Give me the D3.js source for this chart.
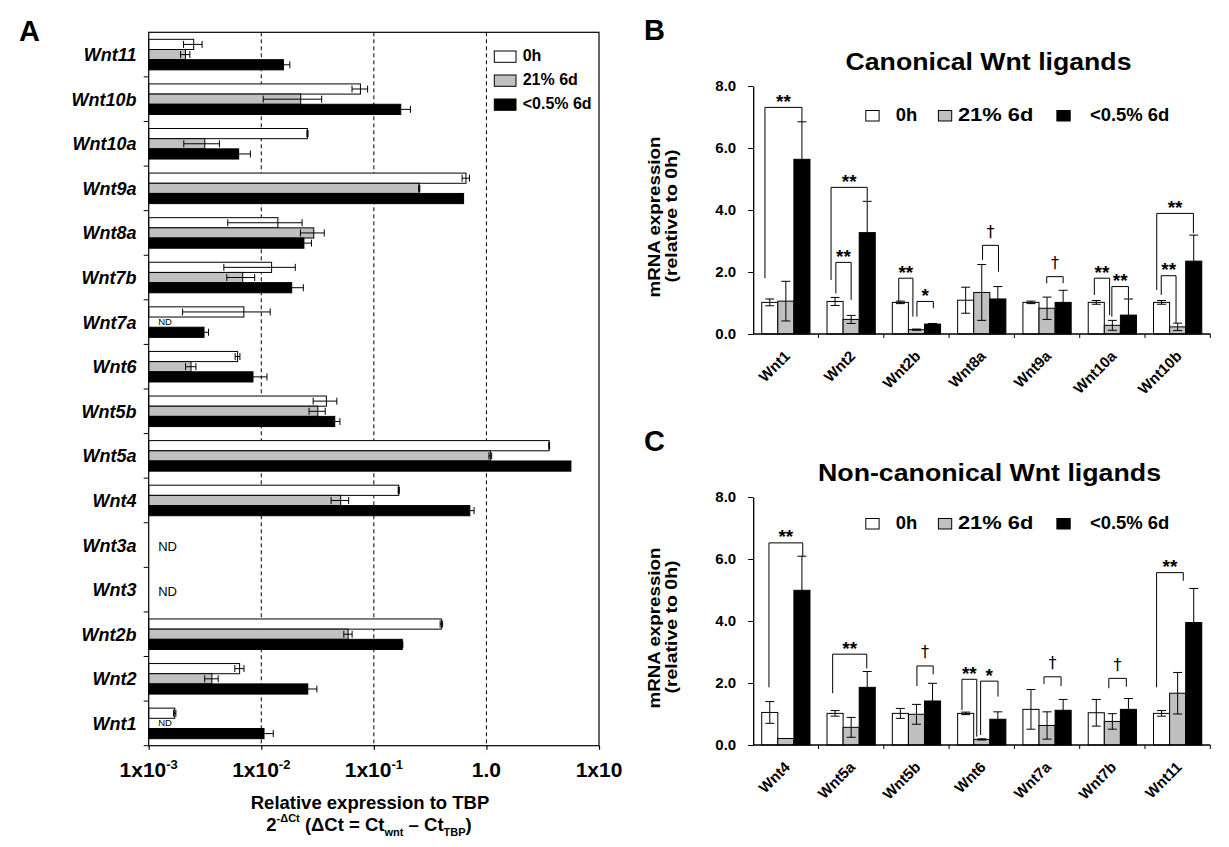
<!DOCTYPE html>
<html><head><meta charset="utf-8">
<script src="https://cdn.jsdelivr.net/npm/d3@7"></script>
<style>
body{margin:0;background:#fff;}
svg{display:block;font-family:"Liberation Sans",Arial,sans-serif;}
text{fill:#000;}
</style></head><body>
<svg id="c" width="1229" height="847"></svg>
<script>
// ---------------- DATA ----------------
const seriesNames = ["0h", "21% 6d", "<0.5% 6d"];

// Panel A (log scale, relative to TBP); null = ND
const catsA = ["Wnt11","Wnt10b","Wnt10a","Wnt9a","Wnt8a","Wnt7b","Wnt7a","Wnt6","Wnt5b","Wnt5a","Wnt4","Wnt3a","Wnt3","Wnt2b","Wnt2","Wnt1"];
const a0h    = [0.00251, 0.0760, 0.02573, 0.658, 0.01404, 0.01235, 0.0070, 0.00616, 0.0379, 3.61, 0.1664, null, null, 0.398, 0.00642, 0.001704];
const a0hErr = [0.00047, 0.012, 0.0003, 0.05, 0.009, 0.0077, 0.005, 0.0003, 0.009, 0.03, 0.002, null, null, 0.01, 0.0006, 0.00004];
const a21    = [0.00212, 0.02241, 0.00315, 0.253, 0.02927, 0.00684, null, 0.002376, 0.03178, 1.083, 0.0507, null, null, 0.0591, 0.00364, null];
const a21Err = [0.0002, 0.012, 0.0011, 0.003, 0.007, 0.0019, null, 0.00025, 0.0052, 0.03, 0.009, null, null, 0.005, 0.0005, null];
const a05    = [0.01573, 0.1734, 0.0063, 0.627, 0.02392, 0.01864, 0.0031, 0.00844, 0.04496, 5.63, 0.712, null, null, 0.1789, 0.0259, 0.01058];
const a05Err = [0.0022, 0.038, 0.0017, 0, 0.004, 0.005, 0.0003, 0.0028, 0.005, 0, 0.065, null, null, 0.002, 0.0053, 0.0022];
const decadesA  = [1e-3, 1e-2, 1e-1, 1, 10];
const tickBaseA = ["1x10", "1x10", "1x10", "1.0", "1x10"];
const tickExpA  = ["-3", "-2", "-1", "", ""];

// Panel B (canonical)
const catsB  = ["Wnt1","Wnt2","Wnt2b","Wnt8a","Wnt9a","Wnt10a","Wnt10b"];
const b0h    = [1.02, 1.05, 1.02, 1.09, 1.02, 1.02, 1.02];
const b0hErr = [0.11, 0.13, 0.04, 0.42, 0.04, 0.06, 0.06];
const b21    = [1.06, 0.47, 0.14, 1.34, 0.83, 0.28, 0.23];
const b21Err = [0.64, 0.13, 0.02, 0.90, 0.36, 0.16, 0.12];
const b05    = [5.635, 3.27, 0.32, 1.13, 1.02, 0.61, 2.35];
const b05Err = [1.21, 1.01, 0.02, 0.40, 0.39, 0.52, 0.84];
const bracketsB = [
  {cat:"Wnt1",  from:-0.3, to:2.0,  top:7.31, l:1.80, r:6.85, label:"**"},
  {cat:"Wnt2",  from:-0.25,to:2.0,  top:4.73, l:1.74, r:4.30, label:"**"},
  {cat:"Wnt2",  from:0.05, to:1.0,  top:2.31, l:1.31, r:1.10, label:"**"},
  {cat:"Wnt2b", from:-0.1, to:0.78, top:1.80, l:1.04, r:0.56, label:"**"},
  {cat:"Wnt2b", from:1.03, to:2.05, top:1.05, l:0.56, r:0.83, label:"*"},
  {cat:"Wnt8a", from:1.05, to:2.04, top:2.86, l:2.39, r:2.01, label:"†"},
  {cat:"Wnt9a", from:0.98, to:2.0,  top:1.85, l:1.64, r:1.64, label:"†"},
  {cat:"Wnt10a",from:-0.12,to:0.83, top:1.80, l:1.26, r:0.61, label:"**"},
  {cat:"Wnt10a",from:0.97, to:2.0,  top:1.53, l:0.56, r:1.15, label:"**"},
  {cat:"Wnt10b",from:-0.3, to:1.98, top:3.89, l:1.42, r:3.25, label:"**"},
  {cat:"Wnt10b",from:-0.02,to:0.9,  top:1.88, l:1.26, r:0.35, label:"**"}
];

// Panel C (non-canonical)
const catsC  = ["Wnt4","Wnt5a","Wnt5b","Wnt6","Wnt7a","Wnt7b","Wnt11"];
const c0h    = [1.05, 1.02, 1.02, 1.02, 1.15, 1.04, 1.02];
const c0hErr = [0.35, 0.09, 0.16, 0.04, 0.64, 0.43, 0.09];
const c21    = [0.21, 0.57, 0.99, 0.18, 0.63, 0.76, 1.67];
const c21Err = [0, 0.32, 0.32, 0.02, 0.44, 0.25, 0.67];
const c05    = [4.99, 1.86, 1.42, 0.83, 1.12, 1.15, 3.95];
const c05Err = [1.10, 0.51, 0.57, 0.24, 0.35, 0.35, 1.10];
const bracketsC = [
  {cat:"Wnt4",  from:-0.05,to:2.05, top:6.52, l:1.86, r:6.09, label:"**"},
  {cat:"Wnt5a", from:-0.15,to:1.97, top:2.93, l:1.67, r:2.47, label:"**"},
  {cat:"Wnt5b", from:1.03, to:2.04, top:2.55, l:1.90, r:2.28, label:"†"},
  {cat:"Wnt6",  from:-0.23,to:0.69, top:2.12, l:1.13, r:0.27, label:"**"},
  {cat:"Wnt6",  from:0.93, to:2.01, top:2.06, l:0.32, r:1.56, label:"*"},
  {cat:"Wnt7a", from:0.81, to:1.87, top:2.20, l:1.97, r:1.90, label:"†"},
  {cat:"Wnt7b", from:0.78, to:1.87, top:2.15, l:1.83, r:1.88, label:"†"},
  {cat:"Wnt11", from:-0.31,to:1.35, top:5.56, l:1.86, r:5.30, label:"**"}
];
const yTicksBC = [0, 2, 4, 6, 8];

// ---------------- STYLE ----------------
const fills = ["#ffffff", "#c0c0c0", "#000000"];
const svg = d3.select("#c");

// ---------------- PANEL A ----------------
(function(){
  const L = 148.7, R = 599, T = 32.3, B = 745.7;
  const x = d3.scaleLog().domain([1e-3, 10]).range([L, R]);
  const y = d3.scaleBand().domain(catsA).range([T, B]);
  const yi = d3.scaleBand().domain([0,1,2]).range([0, y.bandwidth()]).paddingOuter(0.69);
  const vals = [a0h, a21, a05], errs = [a0hErr, a21Err, a05Err];
  const g = svg.append("g");

  g.append("text").attr("x", 19).attr("y", 40.5).attr("font-size", 29).attr("font-weight", "bold").text("A");

  // dashed grid
  g.selectAll("line.grid").data(decadesA.slice(1, 4)).join("line")
    .attr("x1", d => x(d)).attr("x2", d => x(d)).attr("y1", T).attr("y2", B)
    .attr("stroke", "#000").attr("stroke-width", 1).attr("stroke-dasharray", "4,3");

  // bars
  catsA.forEach((c, ci) => {
    const allNull = vals.every(v => v[ci] == null);
    if (allNull) {
      g.append("text").attr("x", L + 9.5).attr("y", y(c) + y.bandwidth()/2 + 6)
        .attr("font-size", 13).text("ND");
      return;
    }
    vals.forEach((arr, si) => {
      const v = arr[ci];
      const yy = y(c) + yi(si), h = yi.bandwidth();
      if (v == null) {
        g.append("text").attr("x", L + 9.5).attr("y", yy + h - 2.2)
          .attr("font-size", 9.5).text("ND");
        return;
      }
      g.append("rect").attr("x", L).attr("y", yy).attr("width", x(v) - L).attr("height", h)
        .attr("fill", fills[si]).attr("stroke", "#000").attr("stroke-width", 1);
      const e = errs[si][ci];
      if (e) {
        const lo = Math.max(v - e, 1e-3), hi = v + e, cy = yy + h/2;
        g.append("line").attr("x1", x(lo)).attr("x2", x(hi)).attr("y1", cy).attr("y2", cy).attr("stroke", "#000");
        [lo, hi].forEach(d => g.append("line").attr("x1", x(d)).attr("x2", x(d))
          .attr("y1", cy - 3.5).attr("y2", cy + 3.5).attr("stroke", "#000"));
      }
    });
  });

  // frame
  g.append("rect").attr("x", L).attr("y", T).attr("width", R - L).attr("height", B - T)
    .attr("fill", "none").attr("stroke", "#000").attr("stroke-width", 1.2);

  // left ticks at category boundaries
  const bounds = catsA.slice(1).map(c => y(c)).concat([B]);
  g.selectAll("line.lt").data(bounds).join("line")
    .attr("x1", L - 5).attr("x2", L).attr("y1", d => d).attr("y2", d => d).attr("stroke", "#000");

  // bottom axis
  const ax = g.append("g").attr("transform", `translate(0,${B})`)
    .call(d3.axisBottom(x).tickValues(decadesA).tickFormat("").tickSize(4).tickSizeOuter(0));
  ax.select(".domain").remove();
  ax.selectAll("line").attr("stroke-width", 1.2);

  // category labels
  g.selectAll("text.cat").data(catsA).join("text")
    .attr("x", 136.5).attr("y", d => y(d) + y.bandwidth()/2 + 6.5)
    .attr("text-anchor", "end").attr("font-size", 18).attr("font-weight", "bold").attr("font-style", "italic")
    .text(d => d);

  // tick labels
  decadesA.forEach((d, i) => {
    const t = g.append("text").attr("x", x(d)).attr("y", 777).attr("text-anchor", "middle")
      .attr("font-size", 21).attr("font-weight", "bold");
    t.append("tspan").text(tickBaseA[i]);
    if (tickExpA[i]) t.append("tspan").attr("font-size", 13).attr("dy", -8).text(tickExpA[i]);
  });

  // axis title
  g.append("text").attr("x", 370).attr("y", 808.5).attr("text-anchor", "middle")
    .attr("font-size", 18.5).attr("font-weight", "bold").text("Relative expression to TBP");
  const t2 = g.append("text").attr("x", 369).attr("y", 830.5).attr("text-anchor", "middle")
    .attr("font-size", 18.5).attr("font-weight", "bold");
  t2.append("tspan").text("2");
  t2.append("tspan").attr("font-size", 11).attr("dy", -9).text("-ΔCt");
  t2.append("tspan").attr("dy", 9).text(" (ΔCt = Ct");
  t2.append("tspan").attr("font-size", 11).attr("dy", 5).text("wnt");
  t2.append("tspan").attr("dy", -5).text(" – Ct");
  t2.append("tspan").attr("font-size", 11).attr("dy", 5).text("TBP");
  t2.append("tspan").attr("dy", -5).text(")");

  // legend
  seriesNames.forEach((s, i) => {
    const by = 51 + i * 24;
    g.append("rect").attr("x", 494.3).attr("y", by).attr("width", 21.7).attr("height", 11.3)
      .attr("fill", fills[i]).attr("stroke", "#000");
    g.append("text").attr("x", 522.7).attr("y", by + 10.3).attr("font-size", 16).attr("font-weight", "bold").text(s);
  });
})();

// ---------------- PANELS B & C ----------------
function drawPanel(o) {
  const g = svg.append("g");
  const x = d3.scaleBand().domain(o.cats).range([753.2, 1210.3]);
  const xi = d3.scaleBand().domain([0,1,2]).range([0, x.bandwidth()]).paddingOuter(0.53);
  const y = d3.scaleLinear().domain([0, 8]).range([o.y0, o.y0 - 248]);
  const vals = o.vals, errs = o.errs;
  const barCenter = (c, idx) => x(c) + xi(0) + xi.bandwidth()/2 + idx * xi.step();

  g.append("text").attr("x", 644).attr("y", o.y0 - 294).attr("font-size", 29).attr("font-weight", "bold").text(o.letter);
  g.append("text").attr("x", o.titleX).attr("y", o.y0 - 264.5).attr("text-anchor", "middle")
    .attr("font-size", 23).attr("font-weight", "bold")
    .attr("textLength", o.titleLen).attr("lengthAdjust", "spacingAndGlyphs").text(o.title);

  // y title
  const yc = o.y0 - 117;
  g.append("text").attr("transform", `translate(660,${yc}) rotate(-90)`).attr("text-anchor", "middle")
    .attr("font-size", 16.5).attr("font-weight", "bold")
    .attr("textLength", 161).attr("lengthAdjust", "spacingAndGlyphs").text("mRNA expression");
  g.append("text").attr("transform", `translate(676.5,${yc - 1}) rotate(-90)`).attr("text-anchor", "middle")
    .attr("font-size", 16.5).attr("font-weight", "bold")
    .attr("textLength", 133).attr("lengthAdjust", "spacingAndGlyphs").text("(relative to 0h)");

  // bars
  o.cats.forEach((c, ci) => {
    vals.forEach((arr, si) => {
      const v = arr[ci];
      g.append("rect").attr("x", x(c) + xi(si)).attr("y", y(v)).attr("width", xi.bandwidth())
        .attr("height", y(0) - y(v)).attr("fill", fills[si]).attr("stroke", "#000").attr("stroke-width", 1);
    });
  });
  // error bars
  o.cats.forEach((c, ci) => {
    vals.forEach((arr, si) => {
      const v = arr[ci], e = errs[si][ci];
      if (!e) return;
      const cx = barCenter(c, si);
      const lo = Math.max(v - e, 0), hi = v + e;
      g.append("line").attr("x1", cx).attr("x2", cx).attr("y1", y(lo)).attr("y2", y(hi)).attr("stroke", "#000");
      [lo, hi].forEach(d => g.append("line").attr("x1", cx - 4.5).attr("x2", cx + 4.5)
        .attr("y1", y(d)).attr("y2", y(d)).attr("stroke", "#000"));
    });
  });

  // y axis
  const ay = g.append("g").attr("transform", "translate(753.2,0)")
    .call(d3.axisLeft(y).tickValues(yTicksBC).tickFormat(d3.format(".1f")).tickSize(5).tickSizeOuter(0));
  ay.selectAll("text").attr("x", -17).attr("font-size", 15).attr("font-weight", "bold")
    .attr("font-family", "Liberation Sans, Arial, sans-serif").attr("fill", "#000");
  ay.select(".domain").attr("stroke-width", 1.3);

  // x axis line + boundary ticks
  g.append("line").attr("x1", 753.2).attr("x2", 1210.3).attr("y1", y(0)).attr("y2", y(0))
    .attr("stroke", "#000").attr("stroke-width", 1.3);
  const xb = o.cats.slice(1).map(c => x(c)).concat([1210.3]);
  g.selectAll("line.xt").data(xb).join("line")
    .attr("x1", d => d).attr("x2", d => d).attr("y1", y(0)).attr("y2", y(0) + 4).attr("stroke", "#000");

  // x labels
  g.selectAll("text.xl").data(o.cats).join("text")
    .attr("transform", d => `translate(${x(d) + x.bandwidth()/2 + 5},${y(0) + 23}) rotate(-45)`)
    .attr("text-anchor", "end").attr("font-size", 15).attr("font-weight", "bold").text(d => d);

  // brackets
  o.brackets.forEach(b => {
    const xl = barCenter(b.cat, b.from), xr = barCenter(b.cat, b.to);
    g.append("path").attr("d", `M${xl},${y(b.l)}V${y(b.top)}H${xr}V${y(b.r)}`)
      .attr("fill", "none").attr("stroke", "#000").attr("stroke-width", 1);
    const dag = b.label === "†";
    g.append("text").attr("x", (xl + xr)/2).attr("y", y(b.top) + (dag ? -8.5 : 0.5))
      .attr("text-anchor", "middle").attr("font-size", dag ? 16 : 19).attr("font-weight", dag ? "normal" : "bold")
      .attr("font-family", dag ? "DejaVu Sans, Liberation Sans, sans-serif" : null)
      .attr("fill", "#000").style("fill", "#000")
      .text(b.label);
  });

  // legend
  const boxX = [865.8, 938.4, 1056.9], txtX = [895.7, 957.9, 1089.9], txtLen = [21.5, 75.5, 79.5];
  seriesNames.forEach((s, i) => {
    g.append("rect").attr("x", boxX[i]).attr("y", o.legY - 10.5).attr("width", 13.3).attr("height", 10.5)
      .attr("fill", fills[i]).attr("stroke", "#000");
    g.append("text").attr("x", txtX[i]).attr("y", o.legY).attr("font-size", 18).attr("font-weight", "bold")
      .attr("textLength", txtLen[i]).attr("lengthAdjust", "spacingAndGlyphs").text(s);
  });
}

drawPanel({letter:"B", title:"Canonical Wnt ligands", titleX:988.5, titleLen:286, cats:catsB,
  vals:[b0h, b21, b05], errs:[b0hErr, b21Err, b05Err], brackets:bracketsB, y0:334, legY:121});
drawPanel({letter:"C", title:"Non-canonical Wnt ligands", titleX:989.5, titleLen:343, cats:catsC,
  vals:[c0h, c21, c05], errs:[c0hErr, c21Err, c05Err], brackets:bracketsC, y0:745, legY:529});
</script>
</body></html>
